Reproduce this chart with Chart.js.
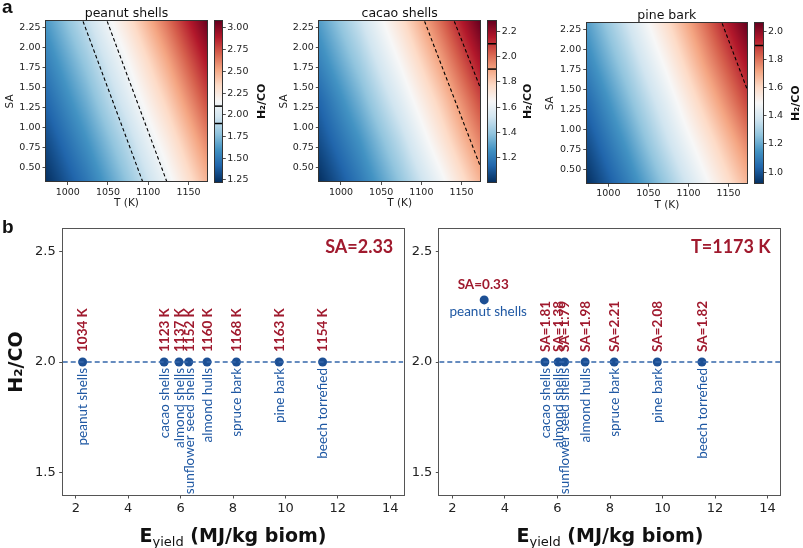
<!DOCTYPE html>
<html><head><meta charset="utf-8">
<script src="https://cdn.jsdelivr.net/npm/chart.js@4.4.1/dist/chart.umd.min.js"></script>
<style>
html,body{margin:0;padding:0;background:#fff}
#page{position:relative;width:803px;height:548px;overflow:hidden;background:#fff}
#page canvas{position:absolute;left:0;top:0}
</style></head><body><div id="page"></div>
<script>
// ---------------- DATA ----------------
const T_AXIS = [973, 1173];
const SA_AXIS = [0.33, 2.33];
const T_TICKS = [1000, 1050, 1100, 1150];
const SA_TICKS = [0.50, 0.75, 1.00, 1.25, 1.50, 1.75, 2.00, 2.25];
const T_GRID = [973, 1023, 1073, 1123, 1173];
const SA_GRID = [0.33, 0.83, 1.33, 1.83, 2.33];

const peanutH2CO = [
  [1.23, 1.48, 1.78, 2.10, 2.47],
  [1.32, 1.59, 1.89, 2.23, 2.61],
  [1.42, 1.70, 2.02, 2.37, 2.76],
  [1.52, 1.81, 2.14, 2.51, 2.91],
  [1.62, 1.93, 2.28, 2.66, 3.07]];
const cacaoH2CO = [
  [1.01, 1.19, 1.39, 1.61, 1.86],
  [1.08, 1.26, 1.47, 1.71, 1.96],
  [1.14, 1.34, 1.56, 1.80, 2.06],
  [1.22, 1.42, 1.65, 1.90, 2.17],
  [1.29, 1.50, 1.74, 2.00, 2.28]];
const pineH2CO = [
  [0.92, 1.09, 1.28, 1.48, 1.68],
  [0.98, 1.16, 1.36, 1.56, 1.77],
  [1.04, 1.23, 1.43, 1.65, 1.87],
  [1.11, 1.30, 1.51, 1.74, 1.96],
  [1.17, 1.37, 1.59, 1.82, 2.06]];

const peanutRange = [1.23, 3.08];
const cacaoRange = [1.01, 2.28];
const pineRange = [0.92, 2.06];
const peanutCbarTicks = [1.25, 1.50, 1.75, 2.00, 2.25, 2.50, 2.75, 3.00];
const cacaoCbarTicks = [1.2, 1.4, 1.6, 1.8, 2.0, 2.2];
const pineCbarTicks = [1.0, 1.2, 1.4, 1.6, 1.8, 2.0];
const peanutLevels = [1.9, 2.1];
const cacaoLevels = [1.9, 2.1];
const pineLevels = [1.9];

// contour lines (end points, T and SA)
const peanutC19_T = [1019, 1093], peanutC19_SA = [2.33, 0.33];
const peanutC21_T = [1049, 1123], peanutC21_SA = [2.33, 0.33];
const cacaoC19_T = [1104, 1173], cacaoC19_SA = [2.33, 0.53];
const cacaoC21_T = [1141, 1173], cacaoC21_SA = [2.33, 1.51];
const pineC19_T = [1142, 1173], pineC19_SA = [2.33, 1.51];

// panel b
const biomass = ["peanut shells", "cacao shells", "almond shells", "sunflower seed shells",
                 "almond hulls", "spruce bark", "pine bark", "beech torrefied"];
const E_SA233 = [2.26, 5.37, 5.94, 6.31, 7.01, 8.13, 9.76, 11.42];
const R_SA233 = [2.0, 2.0, 2.0, 2.0, 2.0, 2.0, 2.0, 2.0];
const T_SA233 = [1034, 1123, 1137, 1152, 1160, 1168, 1163, 1154];
const E_T1173 = [3.21, 5.52, 6.03, 6.27, 7.05, 8.16, 9.80, 11.50];
const R_T1173 = [2.28, 2.0, 2.0, 2.0, 2.0, 2.0, 2.0, 2.0];
const SA_T1173 = [0.33, 1.81, 1.38, 1.79, 1.98, 2.21, 2.08, 1.82];
const E_AXIS = [1.5, 14.5];
const R_AXIS = [1.4, 2.6];
const E_TICKS = [2, 4, 6, 8, 10, 12, 14];
const R_TICKS = [1.5, 2.0, 2.5];
const TARGET_RATIO = 2.0;

// ---------------- HELPERS ----------------
const W = 803, H = 548;
const RDBU_R = ['#053061','#2166ac','#4393c3','#92c5de','#d1e5f0','#f7f7f7','#fddbc7','#f4a582','#d6604d','#b2182b','#67001f']
  .map(h => [parseInt(h.slice(1,3),16), parseInt(h.slice(3,5),16), parseInt(h.slice(5,7),16)]);
function cmap(t) {
  t = Math.max(0, Math.min(1, t));
  const p = t * (RDBU_R.length - 1), i = Math.min(RDBU_R.length - 2, Math.floor(p)), f = p - i;
  const a = RDBU_R[i], b = RDBU_R[i + 1];
  return [a[0] + (b[0]-a[0])*f, a[1] + (b[1]-a[1])*f, a[2] + (b[2]-a[2])*f];
}
function seg(arr, v) {
  let i = 0;
  while (i < arr.length - 2 && v > arr[i + 1]) i++;
  let f = (v - arr[i]) / (arr[i + 1] - arr[i]);
  return [i, Math.max(0, Math.min(1, f))];
}
function bilin(grid, xs, ys, x, y) {
  const [i, fx] = seg(xs, x), [j, fy] = seg(ys, y);
  const a = grid[j][i], b = grid[j][i+1], c = grid[j+1][i], d = grid[j+1][i+1];
  return (a*(1-fx) + b*fx)*(1-fy) + (c*(1-fx) + d*fx)*fy;
}
function mkCanvas() {
  const c = document.createElement('canvas');
  c.width = W; c.height = H; c.style.width = W + 'px'; c.style.height = H + 'px';
  document.getElementById('page').appendChild(c);
  return c;
}
const framePlugin = (color) => ({
  id: 'frame',
  afterDatasetsDraw(chart) {
    const a = chart.chartArea, ctx = chart.ctx;
    ctx.save(); ctx.strokeStyle = color; ctx.lineWidth = 1;
    ctx.strokeRect(Math.round(a.left) - 0.5, Math.round(a.top) - 0.5, Math.round(a.right - a.left) + 1, Math.round(a.bottom - a.top) + 1);
    ctx.restore();
  }
});
const textPlugin = (items) => ({
  id: 'texts',
  afterDraw(chart) {
    const ctx = chart.ctx, a = chart.chartArea;
    items.forEach(it => {
      ctx.save();
      ctx.font = it.font; ctx.fillStyle = it.color || '#111';
      ctx.textAlign = it.align || 'center'; ctx.textBaseline = it.baseline || 'middle';
      const x = typeof it.x === 'function' ? it.x(a) : it.x;
      const y = typeof it.y === 'function' ? it.y(a) : it.y;
      ctx.translate(x, y);
      if (it.rot) ctx.rotate(it.rot);
      ctx.fillText(it.text, 0, 0);
      ctx.restore();
    });
  }
});
const tickFontS = {family: 'DejaVu Sans', size: 9.5};
const smallGrid = {display: true, drawOnChartArea: false, drawTicks: true, tickLength: 3.5, color: '#222', lineWidth: 0.8};

// ---------------- HEAT MAPS ----------------
function heatChart(o) {
  const YW = 44, XH = 28;
  const heat = {
    id: 'heat',
    beforeDatasetsDraw(chart) {
      const a = chart.chartArea, xs = chart.scales.x, ys = chart.scales.y;
      const L = Math.round(a.left), T = Math.round(a.top);
      const w = Math.round(a.right) - L, h = Math.round(a.bottom) - T;
      const off = document.createElement('canvas'); off.width = w; off.height = h;
      const octx = off.getContext('2d'); const img = octx.createImageData(w, h);
      for (let py = 0; py < h; py++) {
        const S = ys.getValueForPixel(T + py + 0.5);
        for (let px = 0; px < w; px++) {
          const t = xs.getValueForPixel(L + px + 0.5);
          const v = bilin(o.grid, T_GRID, SA_GRID, t, S);
          const c = cmap((v - o.range[0]) / (o.range[1] - o.range[0]));
          const k = (py * w + px) * 4;
          img.data[k] = c[0]; img.data[k+1] = c[1]; img.data[k+2] = c[2]; img.data[k+3] = 255;
        }
      }
      octx.putImageData(img, 0, 0);
      chart.ctx.drawImage(off, L, T);
    }
  };
  const texts = [{text: o.title, font: '12.5px "DejaVu Sans"', x: a => (a.left + a.right) / 2, y: a => a.top - 8}];
  if (o.letter) texts.push(o.letter);
  return new Chart(mkCanvas(), {
    type: 'scatter',
    data: {datasets: o.contours.map(c => ({
      data: c[0].map((t, i) => ({x: t, y: c[1][i]})),
      showLine: true, borderColor: '#000', borderWidth: 1.1, borderDash: [3.5, 2.5],
      pointRadius: 0, fill: false}))},
    options: {
      responsive: false, animation: false, events: [],
      layout: {padding: {left: o.L - YW, top: o.T, right: W - o.R, bottom: H - o.B - XH}},
      plugins: {legend: {display: false}, tooltip: {enabled: false}},
      scales: {
        x: {type: 'linear', min: T_AXIS[0], max: T_AXIS[1],
            afterFit: s => { s.height = XH; },
            afterBuildTicks: s => { s.ticks = T_TICKS.map(v => ({value: v})); },
            ticks: {font: tickFontS, color: '#222', padding: 1.5, maxRotation: 0, callback: v => String(v)},
            grid: smallGrid, border: {display: false},
            title: {display: true, text: 'T (K)', font: {family: 'DejaVu Sans', size: 10.5}, color: '#222', padding: {top: 0, bottom: 0}}},
        y: {type: 'linear', min: SA_AXIS[0], max: SA_AXIS[1],
            afterFit: s => { s.width = YW; },
            afterBuildTicks: s => { s.ticks = SA_TICKS.map(v => ({value: v})); },
            ticks: {font: tickFontS, color: '#222', padding: 2, callback: v => v.toFixed(2)},
            grid: smallGrid, border: {display: false},
            title: {display: true, text: 'SA', font: {family: 'DejaVu Sans', size: 10.5}, color: '#222', padding: {top: o.titlePad, bottom: 0}}}
      }
    },
    plugins: [heat, framePlugin('#333'), textPlugin(texts)]
  });
}

function cbarChart(o) {
  const YW = 34;
  const bar = {
    id: 'cbar',
    beforeDatasetsDraw(chart) {
      const a = chart.chartArea, ys = chart.scales.y, ctx = chart.ctx;
      const L = Math.round(a.left), R = Math.round(a.right);
      for (let py = Math.round(a.top); py < Math.round(a.bottom); py++) {
        const v = ys.getValueForPixel(py + 0.5);
        const c = cmap((v - o.range[0]) / (o.range[1] - o.range[0]));
        ctx.fillStyle = `rgb(${c[0]|0},${c[1]|0},${c[2]|0})`;
        ctx.fillRect(L, py, R - L, 1);
      }
      ctx.save(); ctx.strokeStyle = '#000'; ctx.lineWidth = 1.5;
      o.levels.forEach(l => {
        const y = ys.getPixelForValue(l);
        ctx.beginPath(); ctx.moveTo(L, y); ctx.lineTo(R, y); ctx.stroke();
      });
      ctx.restore();
    }
  };
  return new Chart(mkCanvas(), {
    type: 'scatter',
    data: {datasets: []},
    options: {
      responsive: false, animation: false, events: [],
      layout: {padding: {left: o.L, top: o.T, right: W - o.R - YW, bottom: H - o.B}},
      plugins: {legend: {display: false}, tooltip: {enabled: false}},
      scales: {
        x: {display: false, min: 0, max: 1},
        y: {type: 'linear', position: 'right', min: o.range[0], max: o.range[1],
            afterFit: s => { s.width = YW; },
            afterBuildTicks: s => { s.ticks = o.ticks.map(v => ({value: v})); },
            ticks: {font: tickFontS, color: '#222', padding: 1.5, callback: v => v.toFixed(o.dec)},
            grid: smallGrid, border: {display: false}}
      }
    },
    plugins: [bar, framePlugin('#333'), textPlugin([{text: 'H₂/CO', font: 'bold 11px "DejaVu Sans"', x: o.titleX, y: a => (a.top + a.bottom) / 2, rot: -Math.PI / 2}])]
  });
}

heatChart({L: 46, T: 21.3, R: 207, B: 181.5, title: 'peanut shells', grid: peanutH2CO, range: peanutRange, titlePad: 2,
  contours: [[peanutC19_T, peanutC19_SA], [peanutC21_T, peanutC21_SA]],
  letter: {text: 'a', font: 'bold 19px "Liberation Sans"', x: 2, y: 13, align: 'left', baseline: 'alphabetic'}});
cbarChart({L: 215, T: 21, R: 222.3, B: 181.7, range: peanutRange, ticks: peanutCbarTicks, levels: peanutLevels, dec: 2, titleX: 262});

heatChart({L: 319.3, T: 21.3, R: 480, B: 181.5, title: 'cacao shells', grid: cacaoH2CO, range: cacaoRange, titlePad: 2.7,
  contours: [[cacaoC19_T, cacaoC19_SA], [cacaoC21_T, cacaoC21_SA]]});
cbarChart({L: 488.3, T: 21, R: 496.7, B: 181.7, range: cacaoRange, ticks: cacaoCbarTicks, levels: cacaoLevels, dec: 1, titleX: 528.5});

heatChart({L: 586.7, T: 23.3, R: 747, B: 183.3, title: 'pine bark', grid: pineH2CO, range: pineRange, titlePad: 1.3,
  contours: [[pineC19_T, pineC19_SA]]});
cbarChart({L: 755, T: 23, R: 763, B: 183.3, range: pineRange, ticks: pineCbarTicks, levels: pineLevels, dec: 1, titleX: 796.5});

// ---------------- PANEL B ----------------
const RED = '#a01a2e', BLUE = '#1f58a3', PT = '#1c4f94', DASH = '#3467ab';
function bChart(o) {
  const YW = 58, XH = 30;
  const labels = {
    id: 'labels',
    afterDatasetsDraw(chart) {
      const ctx = chart.ctx, xs = chart.scales.x, ys = chart.scales.y;
      o.E.forEach((e, i) => {
        const px = xs.getPixelForValue(e), py = ys.getPixelForValue(o.ratio[i]);
        ctx.save();
        ctx.textBaseline = 'middle';
        if (o.horizontal.includes(i)) {
          ctx.textAlign = 'center';
          ctx.font = 'bold 13.5px Lato'; ctx.fillStyle = RED;
          ctx.fillText(o.red[i], px - 1, py - 15);
          ctx.font = '13.5px Lato'; ctx.fillStyle = BLUE;
          ctx.fillText(biomass[i], px + 4, py + 12);
        } else {
          ctx.translate(px, py); ctx.rotate(-Math.PI / 2);
          ctx.textAlign = 'left'; ctx.font = 'bold 13.5px Lato'; ctx.fillStyle = RED;
          ctx.fillText(o.red[i], 10, 0.5);
          ctx.textAlign = 'right'; ctx.font = '13.5px Lato'; ctx.fillStyle = BLUE;
          ctx.fillText(biomass[i], -6, 0.5);
        }
        ctx.restore();
      });
      // x-axis title with subscript
      const a = chart.chartArea; const yb = a.bottom + 46.5;
      const f1 = 'bold 19px "DejaVu Sans"', f2 = '13px "DejaVu Sans"';
      ctx.save(); ctx.fillStyle = '#111'; ctx.textBaseline = 'alphabetic'; ctx.textAlign = 'left';
      ctx.font = f1; const wE = ctx.measureText('E').width, wR = ctx.measureText(' (MJ/kg biom)').width;
      ctx.font = f2; const wS = ctx.measureText('yield').width;
      let x = (a.left + a.right) / 2 - (wE + wS + wR) / 2;
      ctx.font = f1; ctx.fillText('E', x, yb); x += wE;
      ctx.font = f2; ctx.fillText('yield', x, yb + 4); x += wS;
      ctx.font = f1; ctx.fillText(' (MJ/kg biom)', x, yb);
      ctx.restore();
    }
  };
  const texts = [{text: o.note, font: 'bold 18px Lato', color: RED, x: a => a.right - 10, y: a => a.top + 23.7, align: 'right', baseline: 'alphabetic'}];
  if (o.letter) texts.push(o.letter);
  return new Chart(mkCanvas(), {
    type: 'scatter',
    data: {datasets: [
      {data: [{x: E_AXIS[0], y: TARGET_RATIO}, {x: E_AXIS[1], y: TARGET_RATIO}], showLine: true,
       borderColor: DASH, borderWidth: 1.4, borderDash: [5, 3], pointRadius: 0},
      {data: o.E.map((e, i) => ({x: e, y: o.ratio[i]})), pointRadius: 4.5, pointBackgroundColor: PT, pointBorderColor: PT, borderWidth: 0}
    ]},
    options: {
      responsive: false, animation: false, events: [],
      layout: {padding: {left: o.L - YW, top: o.T, right: W - o.Rx, bottom: H - o.B - XH}},
      plugins: {legend: {display: false}, tooltip: {enabled: false}},
      scales: {
        x: {type: 'linear', min: E_AXIS[0], max: E_AXIS[1],
            afterFit: s => { s.height = XH; },
            afterBuildTicks: s => { s.ticks = E_TICKS.map(v => ({value: v})); },
            ticks: {font: {family: 'DejaVu Sans', size: 13}, color: '#222', padding: 2, maxRotation: 0, callback: v => String(v)},
            grid: smallGrid, border: {display: false}},
        y: {type: 'linear', min: R_AXIS[0], max: R_AXIS[1],
            afterFit: s => { s.width = YW; },
            afterBuildTicks: s => { s.ticks = R_TICKS.map(v => ({value: v})); },
            ticks: {font: {family: 'DejaVu Sans', size: 13}, color: '#222', padding: 3.5, callback: v => v.toFixed(1)},
            grid: smallGrid, border: {display: false},
            title: {display: o.yTitle, text: 'H₂/CO', font: {family: 'DejaVu Sans', size: 19, weight: 'bold'}, color: '#111', padding: {top: 1, bottom: 0}}}
      }
    },
    plugins: [labels, framePlugin('#555'), textPlugin(texts)]
  });
}

bChart({L: 62.7, T: 229, Rx: 403.3, B: 495, E: E_SA233, ratio: R_SA233, red: T_SA233.map(t => t + ' K'),
  horizontal: [], yTitle: true, note: 'SA=2.33',
  letter: {text: 'b', font: 'bold 19px "Liberation Sans"', x: 2, y: 233, align: 'left', baseline: 'alphabetic'}});
bChart({L: 439.3, T: 229, Rx: 780.7, B: 495, E: E_T1173, ratio: R_T1173, red: SA_T1173.map(s => 'SA=' + s.toFixed(2)),
  horizontal: [0], yTitle: false, note: 'T=1173 K'});
</script></body></html>
